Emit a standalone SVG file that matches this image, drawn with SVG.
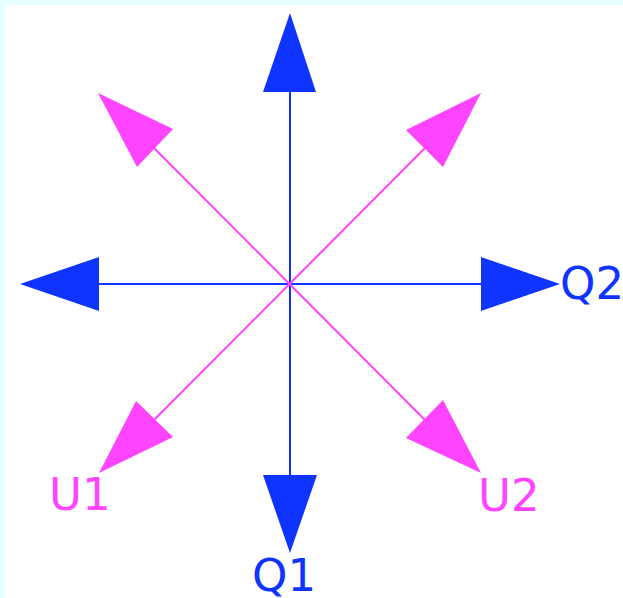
<svg xmlns="http://www.w3.org/2000/svg" width="623" height="598" viewBox="0 0 623 598">
<style>
.b{stroke:#1034ff;stroke-width:2;fill:none}
.p{stroke:#ff44ff;stroke-width:2;fill:none}
.bh{fill:#1034ff}
.ph{fill:#ff44ff}
.t{font-family:"DejaVu Sans",sans-serif;font-size:45px}
</style>
<rect x="0" y="0" width="623" height="598" fill="#e6ffff"/>
<rect x="5" y="5" width="618" height="593" fill="#ffffff"/>
<g id="connectors">
<line class="b" x1="290" y1="90" x2="290" y2="477"/>
<line class="b" x1="97" y1="284" x2="483" y2="284"/>
<line class="p" x1="154" y1="148" x2="425" y2="420"/>
<line class="p" x1="425" y1="148" x2="154" y2="420"/>
<polygon class="bh" points="290,13 316,92 263,92"/>
<polygon class="bh" points="20,284 99,257 99,311"/>
<polygon class="bh" points="560,284 481,257 481,311"/>
<polygon class="bh" points="290,553 317,475 263,475"/>
<polygon class="ph" points="98,93 173,129 137,167"/>
<polygon class="ph" points="481,93 406,130 443,167"/>
<polygon class="ph" points="99,473 136,401 173,437"/>
<polygon class="ph" points="481,473 443,400 406,438"/>
</g>
<g id="Q2"><text class="t" x="560" y="299" fill="#1034ff">Q2</text></g>
<g id="Q1"><text class="t" x="252" y="591" fill="#1034ff">Q1</text></g>
<g id="U1"><text class="t" x="49" y="510" fill="#ff44ff">U1</text></g>
<g id="U2"><text class="t" x="478" y="511" fill="#ff44ff">U2</text></g>
</svg>
